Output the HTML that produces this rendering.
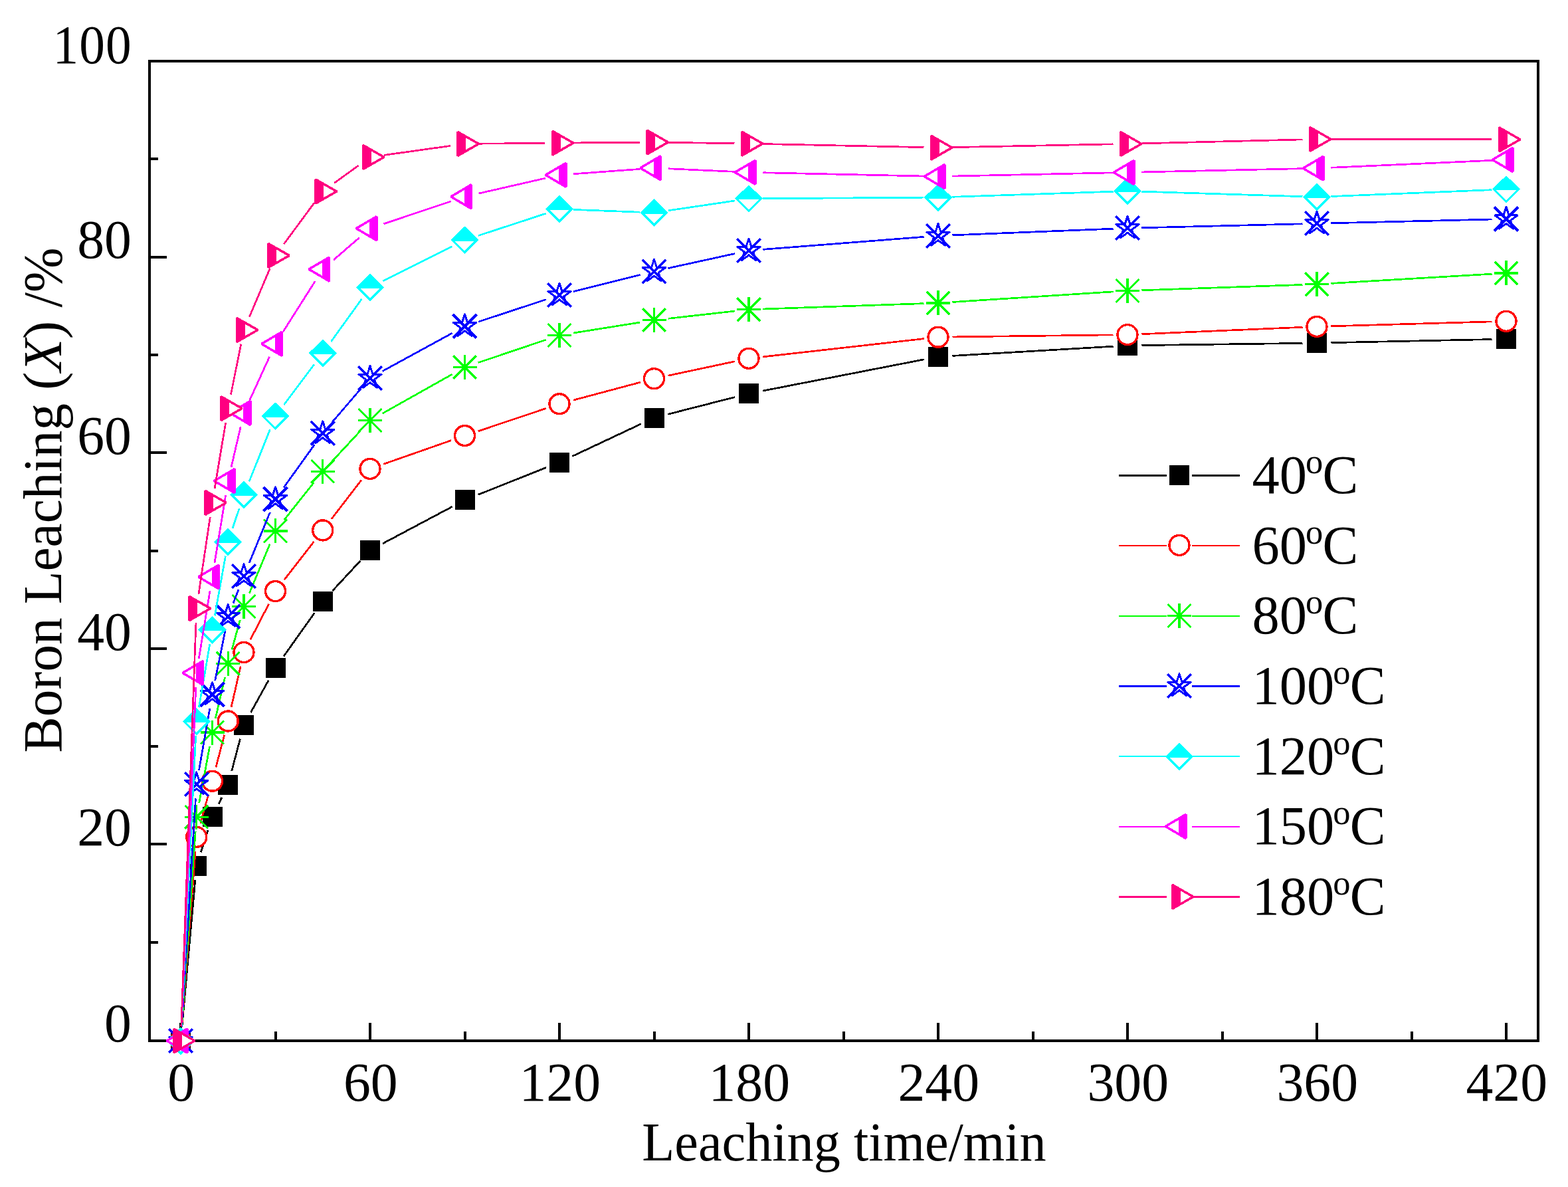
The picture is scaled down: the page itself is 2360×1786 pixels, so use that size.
<!DOCTYPE html>
<html lang="en"><head><meta charset="utf-8"><title>Boron leaching vs leaching time</title>
<style>html,body{margin:0;padding:0;background:#fff}body{width:2360px;height:1786px;overflow:hidden}svg{display:block}text{font-family:"Liberation Serif","DejaVu Serif",serif;fill:#000}</style></head><body>
<svg role="img" aria-label="Boron leaching versus leaching time at 40 to 180 degrees C" width="2360" height="1786" viewBox="0 0 2360 1786" shape-rendering="crispEdges">
<rect width="2360" height="1786" fill="#fff"/>
<rect x="225" y="92" width="2090" height="1474" fill="none" stroke="#000" stroke-width="4"/>
<path d="M272 1539V1565M415 1552V1565M557 1539V1565M700 1552V1565M842 1539V1565M985 1552V1565M1127 1539V1565M1270 1552V1565M1412 1539V1565M1555 1552V1565M1697 1539V1565M1840 1552V1565M1982 1539V1565M2125 1552V1565M2267 1539V1565M226 1566H251M226 1418H238M226 1270H251M226 1123H238M226 976H251M226 829H238M226 681H251M226 534H238M226 387H251M226 239H238M226 92H251" stroke="#000" stroke-width="4" fill="none"/>
<g id="s-40">
<path d="M273.93 1544.59L293.82 1324.11M302.33 1282.23L312.92 1249.27M329.03 1209.53L333.72 1200.07M348.74 1160.01L361.51 1111.59M377.41 1071.99L404.09 1023.81M426.96 987.48L473.29 922.32M500.37 889.04L542.38 843.76M575.99 817.91L680.51 762.39M719.48 744.35L822.02 703.55M861.46 686.45L965.04 637.75M1005.33 623.28L1106.17 597.52M1148.1 588.09L1390.9 540.81M1433.46 535.43L1675.54 521.17M1718.5 519.61L1960.5 516.39M2003.5 515.65L2245.5 510.55" stroke="#000" stroke-width="2.7" fill="none"/>
<rect x="257" y="1551" width="30" height="30" fill="#000"/>
<rect x="280.75" y="1287.7" width="30" height="30" fill="#000"/>
<rect x="304.5" y="1213.8" width="30" height="30" fill="#000"/>
<rect x="328.25" y="1165.8" width="30" height="30" fill="#000"/>
<rect x="352" y="1075.8" width="30" height="30" fill="#000"/>
<rect x="399.5" y="990" width="30" height="30" fill="#000"/>
<rect x="470.75" y="889.8" width="30" height="30" fill="#000"/>
<rect x="542" y="813" width="30" height="30" fill="#000"/>
<rect x="684.5" y="737.3" width="30" height="30" fill="#000"/>
<rect x="827" y="680.6" width="30" height="30" fill="#000"/>
<rect x="969.5" y="613.6" width="30" height="30" fill="#000"/>
<rect x="1112" y="577.2" width="30" height="30" fill="#000"/>
<rect x="1397" y="521.7" width="30" height="30" fill="#000"/>
<rect x="1682" y="504.9" width="30" height="30" fill="#000"/>
<rect x="1967" y="501.1" width="30" height="30" fill="#000"/>
<rect x="2252" y="495.1" width="30" height="30" fill="#000"/>
</g>
<g id="s-60">
<path d="M273.66 1544.56L294.09 1280.84M301.59 1238.71L313.66 1195.89M324.97 1154.41L337.78 1105.79M348.06 1064.04L362.19 1002.46M376.87 962.4L404.63 908.7M427.69 872.62L472.56 814.88M498.87 780.87L543.88 722.43M577.29 698.29L679.21 662.61M719.88 648.66L821.62 614.54M862.77 602.16L963.73 575.24M1005.53 565.21L1105.97 543.79M1148.36 536.89L1390.64 509.61M1433.5 506.93L1675.5 503.87M1718.48 502.68L1960.52 492.32M2003.49 490.79L2245.51 483.91" stroke="#f00" stroke-width="2.7" fill="none"/>
<circle cx="272" cy="1566" r="15" fill="#fff" stroke="#f00" stroke-width="3.4"/>
<circle cx="295.75" cy="1259.4" r="15" fill="#fff" stroke="#f00" stroke-width="3.4"/>
<circle cx="319.5" cy="1175.2" r="15" fill="#fff" stroke="#f00" stroke-width="3.4"/>
<circle cx="343.25" cy="1085" r="15" fill="#fff" stroke="#f00" stroke-width="3.4"/>
<circle cx="367" cy="981.5" r="15" fill="#fff" stroke="#f00" stroke-width="3.4"/>
<circle cx="414.5" cy="889.6" r="15" fill="#fff" stroke="#f00" stroke-width="3.4"/>
<circle cx="485.75" cy="797.9" r="15" fill="#fff" stroke="#f00" stroke-width="3.4"/>
<circle cx="557" cy="705.4" r="15" fill="#fff" stroke="#f00" stroke-width="3.4"/>
<circle cx="699.5" cy="655.5" r="15" fill="#fff" stroke="#f00" stroke-width="3.4"/>
<circle cx="842" cy="607.7" r="15" fill="#fff" stroke="#f00" stroke-width="3.4"/>
<circle cx="984.5" cy="569.7" r="15" fill="#fff" stroke="#f00" stroke-width="3.4"/>
<circle cx="1127" cy="539.3" r="15" fill="#fff" stroke="#f00" stroke-width="3.4"/>
<circle cx="1412" cy="507.2" r="15" fill="#fff" stroke="#f00" stroke-width="3.4"/>
<circle cx="1697" cy="503.6" r="15" fill="#fff" stroke="#f00" stroke-width="3.4"/>
<circle cx="1982" cy="491.4" r="15" fill="#fff" stroke="#f00" stroke-width="3.4"/>
<circle cx="2267" cy="483.3" r="15" fill="#fff" stroke="#f00" stroke-width="3.4"/>
</g>
<g id="s-80">
<path d="M273.51 1544.55L294.24 1250.85M299.69 1208.26L315.56 1123.24M324.29 1081.14L338.46 1019.16M348.99 977.48L361.26 933.12M375.3 892.57L406.2 818.73M427.87 782.06L472.38 726.04M500.39 693.46L542.36 648.34M575.74 622.07L680.76 563.03M719.87 545.62L821.63 511.28M863.23 501.02L963.27 485.08M1005.87 479.3L1105.63 468.1M1148.49 464.96L1390.51 456.64M1433.46 454.51L1675.54 438.89M1718.49 436.76L1960.51 428.44M2003.46 426.43L2245.54 412.17" stroke="#0f0" stroke-width="2.7" fill="none"/>
<path transform="translate(272 1566)" d="M-18 0H18M0-18.5V18.5M-17.4-17.4L17.4 17.4M-17.4 17.4L17.4-17.4" stroke="#0f0" stroke-width="3.3" fill="none"/>
<path transform="translate(295.75 1229.4)" d="M-18 0H18M0-18.5V18.5M-17.4-17.4L17.4 17.4M-17.4 17.4L17.4-17.4" stroke="#0f0" stroke-width="3.3" fill="none"/>
<path transform="translate(319.5 1102.1)" d="M-18 0H18M0-18.5V18.5M-17.4-17.4L17.4 17.4M-17.4 17.4L17.4-17.4" stroke="#0f0" stroke-width="3.3" fill="none"/>
<path transform="translate(343.25 998.2)" d="M-18 0H18M0-18.5V18.5M-17.4-17.4L17.4 17.4M-17.4 17.4L17.4-17.4" stroke="#0f0" stroke-width="3.3" fill="none"/>
<path transform="translate(367 912.4)" d="M-18 0H18M0-18.5V18.5M-17.4-17.4L17.4 17.4M-17.4 17.4L17.4-17.4" stroke="#0f0" stroke-width="3.3" fill="none"/>
<path transform="translate(414.5 798.9)" d="M-18 0H18M0-18.5V18.5M-17.4-17.4L17.4 17.4M-17.4 17.4L17.4-17.4" stroke="#0f0" stroke-width="3.3" fill="none"/>
<path transform="translate(485.75 709.2)" d="M-18 0H18M0-18.5V18.5M-17.4-17.4L17.4 17.4M-17.4 17.4L17.4-17.4" stroke="#0f0" stroke-width="3.3" fill="none"/>
<path transform="translate(557 632.6)" d="M-18 0H18M0-18.5V18.5M-17.4-17.4L17.4 17.4M-17.4 17.4L17.4-17.4" stroke="#0f0" stroke-width="3.3" fill="none"/>
<path transform="translate(699.5 552.5)" d="M-18 0H18M0-18.5V18.5M-17.4-17.4L17.4 17.4M-17.4 17.4L17.4-17.4" stroke="#0f0" stroke-width="3.3" fill="none"/>
<path transform="translate(842 504.4)" d="M-18 0H18M0-18.5V18.5M-17.4-17.4L17.4 17.4M-17.4 17.4L17.4-17.4" stroke="#0f0" stroke-width="3.3" fill="none"/>
<path transform="translate(984.5 481.7)" d="M-18 0H18M0-18.5V18.5M-17.4-17.4L17.4 17.4M-17.4 17.4L17.4-17.4" stroke="#0f0" stroke-width="3.3" fill="none"/>
<path transform="translate(1127 465.7)" d="M-18 0H18M0-18.5V18.5M-17.4-17.4L17.4 17.4M-17.4 17.4L17.4-17.4" stroke="#0f0" stroke-width="3.3" fill="none"/>
<path transform="translate(1412 455.9)" d="M-18 0H18M0-18.5V18.5M-17.4-17.4L17.4 17.4M-17.4 17.4L17.4-17.4" stroke="#0f0" stroke-width="3.3" fill="none"/>
<path transform="translate(1697 437.5)" d="M-18 0H18M0-18.5V18.5M-17.4-17.4L17.4 17.4M-17.4 17.4L17.4-17.4" stroke="#0f0" stroke-width="3.3" fill="none"/>
<path transform="translate(1982 427.7)" d="M-18 0H18M0-18.5V18.5M-17.4-17.4L17.4 17.4M-17.4 17.4L17.4-17.4" stroke="#0f0" stroke-width="3.3" fill="none"/>
<path transform="translate(2267 410.9)" d="M-18 0H18M0-18.5V18.5M-17.4-17.4L17.4 17.4M-17.4 17.4L17.4-17.4" stroke="#0f0" stroke-width="3.3" fill="none"/>
</g>
<g id="s-100">
<path d="M273.32 1544.54L294.43 1201.46M299.48 1158.83L315.77 1066.17M323.76 1023.93L338.99 948.67M351.07 907.57L359.18 886.83M375.16 846.91L406.34 770.89M427.04 733.54L473.21 669.26M499.74 635.48L543.01 585.02M575.87 558.4L680.63 501.2M719.92 484.18L821.58 450.72M862.85 438.76L963.65 413.44M1005.5 403.6L1106 381.6M1148.43 375.32L1390.57 356.38M1433.48 353.84L1675.52 344.16M1718.49 342.77L1960.51 336.83M2003.49 335.79L2245.51 330.01" stroke="#00f" stroke-width="2.7" fill="none"/>
<g transform="translate(272 1566)" stroke="#00f" fill="none"><polygon points="0,-18 4.04,-5.56 17.12,-5.56 6.54,2.12 10.58,14.56 0,6.88 -10.58,14.56 -6.54,2.12 -17.12,-5.56 -4.04,-5.56" stroke-width="3" stroke-linejoin="round"/><path d="M-17.8-17.8L17.8 17.8M-17.8 17.8L17.8-17.8" stroke-width="3.8"/></g>
<g transform="translate(295.75 1180)" stroke="#00f" fill="none"><polygon points="0,-18 4.04,-5.56 17.12,-5.56 6.54,2.12 10.58,14.56 0,6.88 -10.58,14.56 -6.54,2.12 -17.12,-5.56 -4.04,-5.56" stroke-width="3" stroke-linejoin="round"/><path d="M-17.8-17.8L17.8 17.8M-17.8 17.8L17.8-17.8" stroke-width="3.8"/></g>
<g transform="translate(319.5 1045)" stroke="#00f" fill="none"><polygon points="0,-18 4.04,-5.56 17.12,-5.56 6.54,2.12 10.58,14.56 0,6.88 -10.58,14.56 -6.54,2.12 -17.12,-5.56 -4.04,-5.56" stroke-width="3" stroke-linejoin="round"/><path d="M-17.8-17.8L17.8 17.8M-17.8 17.8L17.8-17.8" stroke-width="3.8"/></g>
<g transform="translate(343.25 927.6)" stroke="#00f" fill="none"><polygon points="0,-18 4.04,-5.56 17.12,-5.56 6.54,2.12 10.58,14.56 0,6.88 -10.58,14.56 -6.54,2.12 -17.12,-5.56 -4.04,-5.56" stroke-width="3" stroke-linejoin="round"/><path d="M-17.8-17.8L17.8 17.8M-17.8 17.8L17.8-17.8" stroke-width="3.8"/></g>
<g transform="translate(367 866.8)" stroke="#00f" fill="none"><polygon points="0,-18 4.04,-5.56 17.12,-5.56 6.54,2.12 10.58,14.56 0,6.88 -10.58,14.56 -6.54,2.12 -17.12,-5.56 -4.04,-5.56" stroke-width="3" stroke-linejoin="round"/><path d="M-17.8-17.8L17.8 17.8M-17.8 17.8L17.8-17.8" stroke-width="3.8"/></g>
<g transform="translate(414.5 751)" stroke="#00f" fill="none"><polygon points="0,-18 4.04,-5.56 17.12,-5.56 6.54,2.12 10.58,14.56 0,6.88 -10.58,14.56 -6.54,2.12 -17.12,-5.56 -4.04,-5.56" stroke-width="3" stroke-linejoin="round"/><path d="M-17.8-17.8L17.8 17.8M-17.8 17.8L17.8-17.8" stroke-width="3.8"/></g>
<g transform="translate(485.75 651.8)" stroke="#00f" fill="none"><polygon points="0,-18 4.04,-5.56 17.12,-5.56 6.54,2.12 10.58,14.56 0,6.88 -10.58,14.56 -6.54,2.12 -17.12,-5.56 -4.04,-5.56" stroke-width="3" stroke-linejoin="round"/><path d="M-17.8-17.8L17.8 17.8M-17.8 17.8L17.8-17.8" stroke-width="3.8"/></g>
<g transform="translate(557 568.7)" stroke="#00f" fill="none"><polygon points="0,-18 4.04,-5.56 17.12,-5.56 6.54,2.12 10.58,14.56 0,6.88 -10.58,14.56 -6.54,2.12 -17.12,-5.56 -4.04,-5.56" stroke-width="3" stroke-linejoin="round"/><path d="M-17.8-17.8L17.8 17.8M-17.8 17.8L17.8-17.8" stroke-width="3.8"/></g>
<g transform="translate(699.5 490.9)" stroke="#00f" fill="none"><polygon points="0,-18 4.04,-5.56 17.12,-5.56 6.54,2.12 10.58,14.56 0,6.88 -10.58,14.56 -6.54,2.12 -17.12,-5.56 -4.04,-5.56" stroke-width="3" stroke-linejoin="round"/><path d="M-17.8-17.8L17.8 17.8M-17.8 17.8L17.8-17.8" stroke-width="3.8"/></g>
<g transform="translate(842 444)" stroke="#00f" fill="none"><polygon points="0,-18 4.04,-5.56 17.12,-5.56 6.54,2.12 10.58,14.56 0,6.88 -10.58,14.56 -6.54,2.12 -17.12,-5.56 -4.04,-5.56" stroke-width="3" stroke-linejoin="round"/><path d="M-17.8-17.8L17.8 17.8M-17.8 17.8L17.8-17.8" stroke-width="3.8"/></g>
<g transform="translate(984.5 408.2)" stroke="#00f" fill="none"><polygon points="0,-18 4.04,-5.56 17.12,-5.56 6.54,2.12 10.58,14.56 0,6.88 -10.58,14.56 -6.54,2.12 -17.12,-5.56 -4.04,-5.56" stroke-width="3" stroke-linejoin="round"/><path d="M-17.8-17.8L17.8 17.8M-17.8 17.8L17.8-17.8" stroke-width="3.8"/></g>
<g transform="translate(1127 377)" stroke="#00f" fill="none"><polygon points="0,-18 4.04,-5.56 17.12,-5.56 6.54,2.12 10.58,14.56 0,6.88 -10.58,14.56 -6.54,2.12 -17.12,-5.56 -4.04,-5.56" stroke-width="3" stroke-linejoin="round"/><path d="M-17.8-17.8L17.8 17.8M-17.8 17.8L17.8-17.8" stroke-width="3.8"/></g>
<g transform="translate(1412 354.7)" stroke="#00f" fill="none"><polygon points="0,-18 4.04,-5.56 17.12,-5.56 6.54,2.12 10.58,14.56 0,6.88 -10.58,14.56 -6.54,2.12 -17.12,-5.56 -4.04,-5.56" stroke-width="3" stroke-linejoin="round"/><path d="M-17.8-17.8L17.8 17.8M-17.8 17.8L17.8-17.8" stroke-width="3.8"/></g>
<g transform="translate(1697 343.3)" stroke="#00f" fill="none"><polygon points="0,-18 4.04,-5.56 17.12,-5.56 6.54,2.12 10.58,14.56 0,6.88 -10.58,14.56 -6.54,2.12 -17.12,-5.56 -4.04,-5.56" stroke-width="3" stroke-linejoin="round"/><path d="M-17.8-17.8L17.8 17.8M-17.8 17.8L17.8-17.8" stroke-width="3.8"/></g>
<g transform="translate(1982 336.3)" stroke="#00f" fill="none"><polygon points="0,-18 4.04,-5.56 17.12,-5.56 6.54,2.12 10.58,14.56 0,6.88 -10.58,14.56 -6.54,2.12 -17.12,-5.56 -4.04,-5.56" stroke-width="3" stroke-linejoin="round"/><path d="M-17.8-17.8L17.8 17.8M-17.8 17.8L17.8-17.8" stroke-width="3.8"/></g>
<g transform="translate(2267 329.5)" stroke="#00f" fill="none"><polygon points="0,-18 4.04,-5.56 17.12,-5.56 6.54,2.12 10.58,14.56 0,6.88 -10.58,14.56 -6.54,2.12 -17.12,-5.56 -4.04,-5.56" stroke-width="3" stroke-linejoin="round"/><path d="M-17.8-17.8L17.8 17.8M-17.8 17.8L17.8-17.8" stroke-width="3.8"/></g>
</g>
<g id="s-120">
<path d="M273.06 1544.53L294.69 1107.07M299.39 1064.41L315.86 968.69M323.3 926.34L339.45 836.56M350.08 795.01L360.17 764.89M375.01 724.55L406.49 646.15M427.41 609.01L472.84 548.49M498.33 513.86L544.42 449.94M576.23 422.88L680.27 370.82M719.94 354.52L821.56 321.28M863.48 315.41L963.02 319.19M1005.77 316.85L1105.73 302.05M1148.5 298.76L1390.5 297.14M1433.49 296.28L1675.51 288.22M1718.49 288.17L1960.51 295.73M2003.48 295.53L2245.52 285.67" stroke="#0ff" stroke-width="2.7" fill="none"/>
<g transform="translate(272 1566)" stroke="#0ff" stroke-width="3.4"><polygon points="0,-18.3 18.7,0 0,18.7 -18.7,0" fill="#fff"/><polygon points="0,-18.3 18.7,0 17.1,1.6 -17.1,1.6 -18.7,0" fill="#0ff" stroke="none"/></g>
<g transform="translate(295.75 1085.6)" stroke="#0ff" stroke-width="3.4"><polygon points="0,-18.3 18.7,0 0,18.7 -18.7,0" fill="#fff"/><polygon points="0,-18.3 18.7,0 17.1,1.6 -17.1,1.6 -18.7,0" fill="#0ff" stroke="none"/></g>
<g transform="translate(319.5 947.5)" stroke="#0ff" stroke-width="3.4"><polygon points="0,-18.3 18.7,0 0,18.7 -18.7,0" fill="#fff"/><polygon points="0,-18.3 18.7,0 17.1,1.6 -17.1,1.6 -18.7,0" fill="#0ff" stroke="none"/></g>
<g transform="translate(343.25 815.4)" stroke="#0ff" stroke-width="3.4"><polygon points="0,-18.3 18.7,0 0,18.7 -18.7,0" fill="#fff"/><polygon points="0,-18.3 18.7,0 17.1,1.6 -17.1,1.6 -18.7,0" fill="#0ff" stroke="none"/></g>
<g transform="translate(367 744.5)" stroke="#0ff" stroke-width="3.4"><polygon points="0,-18.3 18.7,0 0,18.7 -18.7,0" fill="#fff"/><polygon points="0,-18.3 18.7,0 17.1,1.6 -17.1,1.6 -18.7,0" fill="#0ff" stroke="none"/></g>
<g transform="translate(414.5 626.2)" stroke="#0ff" stroke-width="3.4"><polygon points="0,-18.3 18.7,0 0,18.7 -18.7,0" fill="#fff"/><polygon points="0,-18.3 18.7,0 17.1,1.6 -17.1,1.6 -18.7,0" fill="#0ff" stroke="none"/></g>
<g transform="translate(485.75 531.3)" stroke="#0ff" stroke-width="3.4"><polygon points="0,-18.3 18.7,0 0,18.7 -18.7,0" fill="#fff"/><polygon points="0,-18.3 18.7,0 17.1,1.6 -17.1,1.6 -18.7,0" fill="#0ff" stroke="none"/></g>
<g transform="translate(557 432.5)" stroke="#0ff" stroke-width="3.4"><polygon points="0,-18.3 18.7,0 0,18.7 -18.7,0" fill="#fff"/><polygon points="0,-18.3 18.7,0 17.1,1.6 -17.1,1.6 -18.7,0" fill="#0ff" stroke="none"/></g>
<g transform="translate(699.5 361.2)" stroke="#0ff" stroke-width="3.4"><polygon points="0,-18.3 18.7,0 0,18.7 -18.7,0" fill="#fff"/><polygon points="0,-18.3 18.7,0 17.1,1.6 -17.1,1.6 -18.7,0" fill="#0ff" stroke="none"/></g>
<g transform="translate(842 314.6)" stroke="#0ff" stroke-width="3.4"><polygon points="0,-18.3 18.7,0 0,18.7 -18.7,0" fill="#fff"/><polygon points="0,-18.3 18.7,0 17.1,1.6 -17.1,1.6 -18.7,0" fill="#0ff" stroke="none"/></g>
<g transform="translate(984.5 320)" stroke="#0ff" stroke-width="3.4"><polygon points="0,-18.3 18.7,0 0,18.7 -18.7,0" fill="#fff"/><polygon points="0,-18.3 18.7,0 17.1,1.6 -17.1,1.6 -18.7,0" fill="#0ff" stroke="none"/></g>
<g transform="translate(1127 298.9)" stroke="#0ff" stroke-width="3.4"><polygon points="0,-18.3 18.7,0 0,18.7 -18.7,0" fill="#fff"/><polygon points="0,-18.3 18.7,0 17.1,1.6 -17.1,1.6 -18.7,0" fill="#0ff" stroke="none"/></g>
<g transform="translate(1412 297)" stroke="#0ff" stroke-width="3.4"><polygon points="0,-18.3 18.7,0 0,18.7 -18.7,0" fill="#fff"/><polygon points="0,-18.3 18.7,0 17.1,1.6 -17.1,1.6 -18.7,0" fill="#0ff" stroke="none"/></g>
<g transform="translate(1697 287.5)" stroke="#0ff" stroke-width="3.4"><polygon points="0,-18.3 18.7,0 0,18.7 -18.7,0" fill="#fff"/><polygon points="0,-18.3 18.7,0 17.1,1.6 -17.1,1.6 -18.7,0" fill="#0ff" stroke="none"/></g>
<g transform="translate(1982 296.4)" stroke="#0ff" stroke-width="3.4"><polygon points="0,-18.3 18.7,0 0,18.7 -18.7,0" fill="#fff"/><polygon points="0,-18.3 18.7,0 17.1,1.6 -17.1,1.6 -18.7,0" fill="#0ff" stroke="none"/></g>
<g transform="translate(2267 284.8)" stroke="#0ff" stroke-width="3.4"><polygon points="0,-18.3 18.7,0 0,18.7 -18.7,0" fill="#fff"/><polygon points="0,-18.3 18.7,0 17.1,1.6 -17.1,1.6 -18.7,0" fill="#0ff" stroke="none"/></g>
</g>
<g id="s-150">
<path d="M272.92 1544.52L294.83 1033.98M299.24 991.28L316.01 889.22M322.99 846.79L339.76 744.81M348.12 702.66L362.13 642.34M375.93 601.84L405.57 536.96M426.02 499.25L474.23 423.25M502.04 391.06L540.71 357.74M577.38 336.86L679.12 302.74M720.46 291.11L821.04 268.09M863.44 261.72L963.06 254.38M1005.98 253.78L1105.52 258.32M1148.49 259.77L1390.51 265.03M1433.5 265.04L1675.5 259.86M1718.49 258.93L1960.51 253.67M2003.48 252.24L2245.52 241.36" stroke="#f0f" stroke-width="2.7" fill="none"/>
<g transform="translate(272 1566)" stroke="#f0f" stroke-width="3.5" stroke-linejoin="bevel"><polygon points="-20.9,0 9.75,-18 9.75,18" fill="#fff"/><polygon points="-1,-11.7 9.75,-18 9.75,18 -1,11.7" fill="#f0f" stroke="none"/></g>
<g transform="translate(295.75 1012.5)" stroke="#f0f" stroke-width="3.5" stroke-linejoin="bevel"><polygon points="-20.9,0 9.75,-18 9.75,18" fill="#fff"/><polygon points="-1,-11.7 9.75,-18 9.75,18 -1,11.7" fill="#f0f" stroke="none"/></g>
<g transform="translate(319.5 868)" stroke="#f0f" stroke-width="3.5" stroke-linejoin="bevel"><polygon points="-20.9,0 9.75,-18 9.75,18" fill="#fff"/><polygon points="-1,-11.7 9.75,-18 9.75,18 -1,11.7" fill="#f0f" stroke="none"/></g>
<g transform="translate(343.25 723.6)" stroke="#f0f" stroke-width="3.5" stroke-linejoin="bevel"><polygon points="-20.9,0 9.75,-18 9.75,18" fill="#fff"/><polygon points="-1,-11.7 9.75,-18 9.75,18 -1,11.7" fill="#f0f" stroke="none"/></g>
<g transform="translate(367 621.4)" stroke="#f0f" stroke-width="3.5" stroke-linejoin="bevel"><polygon points="-20.9,0 9.75,-18 9.75,18" fill="#fff"/><polygon points="-1,-11.7 9.75,-18 9.75,18 -1,11.7" fill="#f0f" stroke="none"/></g>
<g transform="translate(414.5 517.4)" stroke="#f0f" stroke-width="3.5" stroke-linejoin="bevel"><polygon points="-20.9,0 9.75,-18 9.75,18" fill="#fff"/><polygon points="-1,-11.7 9.75,-18 9.75,18 -1,11.7" fill="#f0f" stroke="none"/></g>
<g transform="translate(485.75 405.1)" stroke="#f0f" stroke-width="3.5" stroke-linejoin="bevel"><polygon points="-20.9,0 9.75,-18 9.75,18" fill="#fff"/><polygon points="-1,-11.7 9.75,-18 9.75,18 -1,11.7" fill="#f0f" stroke="none"/></g>
<g transform="translate(557 343.7)" stroke="#f0f" stroke-width="3.5" stroke-linejoin="bevel"><polygon points="-20.9,0 9.75,-18 9.75,18" fill="#fff"/><polygon points="-1,-11.7 9.75,-18 9.75,18 -1,11.7" fill="#f0f" stroke="none"/></g>
<g transform="translate(699.5 295.9)" stroke="#f0f" stroke-width="3.5" stroke-linejoin="bevel"><polygon points="-20.9,0 9.75,-18 9.75,18" fill="#fff"/><polygon points="-1,-11.7 9.75,-18 9.75,18 -1,11.7" fill="#f0f" stroke="none"/></g>
<g transform="translate(842 263.3)" stroke="#f0f" stroke-width="3.5" stroke-linejoin="bevel"><polygon points="-20.9,0 9.75,-18 9.75,18" fill="#fff"/><polygon points="-1,-11.7 9.75,-18 9.75,18 -1,11.7" fill="#f0f" stroke="none"/></g>
<g transform="translate(984.5 252.8)" stroke="#f0f" stroke-width="3.5" stroke-linejoin="bevel"><polygon points="-20.9,0 9.75,-18 9.75,18" fill="#fff"/><polygon points="-1,-11.7 9.75,-18 9.75,18 -1,11.7" fill="#f0f" stroke="none"/></g>
<g transform="translate(1127 259.3)" stroke="#f0f" stroke-width="3.5" stroke-linejoin="bevel"><polygon points="-20.9,0 9.75,-18 9.75,18" fill="#fff"/><polygon points="-1,-11.7 9.75,-18 9.75,18 -1,11.7" fill="#f0f" stroke="none"/></g>
<g transform="translate(1412 265.5)" stroke="#f0f" stroke-width="3.5" stroke-linejoin="bevel"><polygon points="-20.9,0 9.75,-18 9.75,18" fill="#fff"/><polygon points="-1,-11.7 9.75,-18 9.75,18 -1,11.7" fill="#f0f" stroke="none"/></g>
<g transform="translate(1697 259.4)" stroke="#f0f" stroke-width="3.5" stroke-linejoin="bevel"><polygon points="-20.9,0 9.75,-18 9.75,18" fill="#fff"/><polygon points="-1,-11.7 9.75,-18 9.75,18 -1,11.7" fill="#f0f" stroke="none"/></g>
<g transform="translate(1982 253.2)" stroke="#f0f" stroke-width="3.5" stroke-linejoin="bevel"><polygon points="-20.9,0 9.75,-18 9.75,18" fill="#fff"/><polygon points="-1,-11.7 9.75,-18 9.75,18 -1,11.7" fill="#f0f" stroke="none"/></g>
<g transform="translate(2267 240.4)" stroke="#f0f" stroke-width="3.5" stroke-linejoin="bevel"><polygon points="-20.9,0 9.75,-18 9.75,18" fill="#fff"/><polygon points="-1,-11.7 9.75,-18 9.75,18 -1,11.7" fill="#f0f" stroke="none"/></g>
</g>
<g id="s-180">
<path d="M272.78 1544.51L294.97 936.99M298.92 894.24L316.33 777.66M323.05 735.2L339.7 635.8M347.49 593.52L362.76 517.58M375.39 476.71L406.11 404.29M427.27 367.2L472.98 305.3M503.16 275.39L539.59 249.01M578.29 233.41L678.21 219.39M721 216.2L820.5 215.3M863.5 214.93L963 214.17M1006 214.32L1105.5 215.78M1148.5 216.55L1390.5 221.65M1433.5 221.67L1675.5 216.83M1718.49 215.87L1960.51 209.93M2003.5 209.44L2245.5 209.86" stroke="#ff0080" stroke-width="2.7" fill="none"/>
<g transform="translate(272 1566)" stroke="#ff0080" stroke-width="3.5" stroke-linejoin="bevel"><polygon points="21,0 -10.55,-18 -10.55,18" fill="#fff"/><polygon points="1.6,-11 -10.55,-18 -10.55,18 1.6,11" fill="#ff0080" stroke="none"/></g>
<g transform="translate(295.75 915.5)" stroke="#ff0080" stroke-width="3.5" stroke-linejoin="bevel"><polygon points="21,0 -10.55,-18 -10.55,18" fill="#fff"/><polygon points="1.6,-11 -10.55,-18 -10.55,18 1.6,11" fill="#ff0080" stroke="none"/></g>
<g transform="translate(319.5 756.4)" stroke="#ff0080" stroke-width="3.5" stroke-linejoin="bevel"><polygon points="21,0 -10.55,-18 -10.55,18" fill="#fff"/><polygon points="1.6,-11 -10.55,-18 -10.55,18 1.6,11" fill="#ff0080" stroke="none"/></g>
<g transform="translate(343.25 614.6)" stroke="#ff0080" stroke-width="3.5" stroke-linejoin="bevel"><polygon points="21,0 -10.55,-18 -10.55,18" fill="#fff"/><polygon points="1.6,-11 -10.55,-18 -10.55,18 1.6,11" fill="#ff0080" stroke="none"/></g>
<g transform="translate(367 496.5)" stroke="#ff0080" stroke-width="3.5" stroke-linejoin="bevel"><polygon points="21,0 -10.55,-18 -10.55,18" fill="#fff"/><polygon points="1.6,-11 -10.55,-18 -10.55,18 1.6,11" fill="#ff0080" stroke="none"/></g>
<g transform="translate(414.5 384.5)" stroke="#ff0080" stroke-width="3.5" stroke-linejoin="bevel"><polygon points="21,0 -10.55,-18 -10.55,18" fill="#fff"/><polygon points="1.6,-11 -10.55,-18 -10.55,18 1.6,11" fill="#ff0080" stroke="none"/></g>
<g transform="translate(485.75 288)" stroke="#ff0080" stroke-width="3.5" stroke-linejoin="bevel"><polygon points="21,0 -10.55,-18 -10.55,18" fill="#fff"/><polygon points="1.6,-11 -10.55,-18 -10.55,18 1.6,11" fill="#ff0080" stroke="none"/></g>
<g transform="translate(557 236.4)" stroke="#ff0080" stroke-width="3.5" stroke-linejoin="bevel"><polygon points="21,0 -10.55,-18 -10.55,18" fill="#fff"/><polygon points="1.6,-11 -10.55,-18 -10.55,18 1.6,11" fill="#ff0080" stroke="none"/></g>
<g transform="translate(699.5 216.4)" stroke="#ff0080" stroke-width="3.5" stroke-linejoin="bevel"><polygon points="21,0 -10.55,-18 -10.55,18" fill="#fff"/><polygon points="1.6,-11 -10.55,-18 -10.55,18 1.6,11" fill="#ff0080" stroke="none"/></g>
<g transform="translate(842 215.1)" stroke="#ff0080" stroke-width="3.5" stroke-linejoin="bevel"><polygon points="21,0 -10.55,-18 -10.55,18" fill="#fff"/><polygon points="1.6,-11 -10.55,-18 -10.55,18 1.6,11" fill="#ff0080" stroke="none"/></g>
<g transform="translate(984.5 214)" stroke="#ff0080" stroke-width="3.5" stroke-linejoin="bevel"><polygon points="21,0 -10.55,-18 -10.55,18" fill="#fff"/><polygon points="1.6,-11 -10.55,-18 -10.55,18 1.6,11" fill="#ff0080" stroke="none"/></g>
<g transform="translate(1127 216.1)" stroke="#ff0080" stroke-width="3.5" stroke-linejoin="bevel"><polygon points="21,0 -10.55,-18 -10.55,18" fill="#fff"/><polygon points="1.6,-11 -10.55,-18 -10.55,18 1.6,11" fill="#ff0080" stroke="none"/></g>
<g transform="translate(1412 222.1)" stroke="#ff0080" stroke-width="3.5" stroke-linejoin="bevel"><polygon points="21,0 -10.55,-18 -10.55,18" fill="#fff"/><polygon points="1.6,-11 -10.55,-18 -10.55,18 1.6,11" fill="#ff0080" stroke="none"/></g>
<g transform="translate(1697 216.4)" stroke="#ff0080" stroke-width="3.5" stroke-linejoin="bevel"><polygon points="21,0 -10.55,-18 -10.55,18" fill="#fff"/><polygon points="1.6,-11 -10.55,-18 -10.55,18 1.6,11" fill="#ff0080" stroke="none"/></g>
<g transform="translate(1982 209.4)" stroke="#ff0080" stroke-width="3.5" stroke-linejoin="bevel"><polygon points="21,0 -10.55,-18 -10.55,18" fill="#fff"/><polygon points="1.6,-11 -10.55,-18 -10.55,18 1.6,11" fill="#ff0080" stroke="none"/></g>
<g transform="translate(2267 209.9)" stroke="#ff0080" stroke-width="3.5" stroke-linejoin="bevel"><polygon points="21,0 -10.55,-18 -10.55,18" fill="#fff"/><polygon points="1.6,-11 -10.55,-18 -10.55,18 1.6,11" fill="#ff0080" stroke="none"/></g>
</g>
<g font-size="82.5">
<text transform="translate(272.8 1656) scale(0.985 1)" font-size="83" text-anchor="middle">0</text>
<text transform="translate(557.8 1656) scale(0.985 1)" font-size="83" text-anchor="middle">60</text>
<text transform="translate(842.8 1656) scale(0.985 1)" font-size="83" text-anchor="middle">120</text>
<text transform="translate(1127.8 1656) scale(0.985 1)" font-size="83" text-anchor="middle">180</text>
<text transform="translate(1412.8 1656) scale(0.985 1)" font-size="83" text-anchor="middle">240</text>
<text transform="translate(1697.8 1656) scale(0.985 1)" font-size="83" text-anchor="middle">300</text>
<text transform="translate(1982.8 1656) scale(0.985 1)" font-size="83" text-anchor="middle">360</text>
<text transform="translate(2267.8 1656) scale(0.985 1)" font-size="83" text-anchor="middle">420</text>
<text transform="translate(197.9 1566.7) scale(0.985 1)" font-size="83" text-anchor="end">0</text>
<text transform="translate(197.9 1271.7) scale(0.985 1)" font-size="83" text-anchor="end">20</text>
<text transform="translate(197.9 977.7) scale(0.985 1)" font-size="83" text-anchor="end">40</text>
<text transform="translate(197.9 682.9) scale(0.985 1)" font-size="83" text-anchor="end">60</text>
<text transform="translate(197.9 387.5) scale(0.985 1)" font-size="83" text-anchor="end">80</text>
<text x="79.4 119.2 159" y="94.8" font-size="83" textLength="116" lengthAdjust="spacingAndGlyphs">100</text>
<text transform="translate(1270.5 1745.7) scale(0.973 1)" text-anchor="middle">Leaching time/min</text>
<text transform="translate(91.6 752.4) rotate(-90) scale(0.9845 1)" text-anchor="middle">Boron Leaching (<tspan font-style="italic">X</tspan>) /%</text>
</g>
<g id="lg-40">
<path d="M1684 715.5H1756M1794 715.5H1866" stroke="#000" stroke-width="3" fill="none"/>
<rect x="1760" y="700" width="30" height="30" fill="#000"/>
<text y="742" font-size="82.5"><tspan x="1884.5">40</tspan><tspan x="1965" dy="-29.8" font-size="52.5">o</tspan><tspan x="1990.6" dy="29.8" textLength="53.7" lengthAdjust="spacingAndGlyphs">C</tspan></text>
</g>
<g id="lg-60">
<path d="M1684 821H1756M1794 821H1866" stroke="#f00" stroke-width="2" fill="none"/>
<circle cx="1775" cy="820.4" r="15" fill="#fff" stroke="#f00" stroke-width="3.4"/>
<text y="847.5" font-size="82.5"><tspan x="1884.5">60</tspan><tspan x="1965" dy="-29.8" font-size="52.5">o</tspan><tspan x="1990.6" dy="29.8" textLength="53.7" lengthAdjust="spacingAndGlyphs">C</tspan></text>
</g>
<g id="lg-80">
<path d="M1684 927H1756M1794 927H1866" stroke="#0f0" stroke-width="2" fill="none"/>
<path transform="translate(1775 926.5)" d="M-18 0H18M0-18.5V18.5M-17.4-17.4L17.4 17.4M-17.4 17.4L17.4-17.4" stroke="#0f0" stroke-width="3.3" fill="none"/>
<text y="953.2" font-size="82.5"><tspan x="1884.5">80</tspan><tspan x="1965" dy="-29.8" font-size="52.5">o</tspan><tspan x="1990.6" dy="29.8" textLength="53.7" lengthAdjust="spacingAndGlyphs">C</tspan></text>
</g>
<g id="lg-100">
<path d="M1684 1032.5H1756M1794 1032.5H1866" stroke="#00f" stroke-width="3" fill="none"/>
<g transform="translate(1775 1031.9)" stroke="#00f" fill="none"><polygon points="0,-18 4.04,-5.56 17.12,-5.56 6.54,2.12 10.58,14.56 0,6.88 -10.58,14.56 -6.54,2.12 -17.12,-5.56 -4.04,-5.56" stroke-width="3" stroke-linejoin="round"/><path d="M-17.8-17.8L17.8 17.8M-17.8 17.8L17.8-17.8" stroke-width="3.8"/></g>
<text y="1058.9" font-size="82.5"><tspan x="1884.5">100</tspan><tspan x="2006.25" dy="-29.8" font-size="52.5">o</tspan><tspan x="2031.85" dy="29.8" textLength="53.7" lengthAdjust="spacingAndGlyphs">C</tspan></text>
</g>
<g id="lg-120">
<path d="M1684 1138H1756M1794 1138H1866" stroke="#0ff" stroke-width="2" fill="none"/>
<g transform="translate(1775 1138.2)" stroke="#0ff" stroke-width="3.4"><polygon points="0,-18.3 18.7,0 0,18.7 -18.7,0" fill="#fff"/><polygon points="0,-18.3 18.7,0 17.1,1.6 -17.1,1.6 -18.7,0" fill="#0ff" stroke="none"/></g>
<text y="1164.5" font-size="82.5"><tspan x="1884.5">120</tspan><tspan x="2006.25" dy="-29.8" font-size="52.5">o</tspan><tspan x="2031.85" dy="29.8" textLength="53.7" lengthAdjust="spacingAndGlyphs">C</tspan></text>
</g>
<g id="lg-150">
<path d="M1684 1244H1756M1794 1244H1866" stroke="#f0f" stroke-width="2" fill="none"/>
<g transform="translate(1775 1243.4)" stroke="#f0f" stroke-width="3.5" stroke-linejoin="bevel"><polygon points="-20.9,0 9.75,-18 9.75,18" fill="#fff"/><polygon points="-1,-11.7 9.75,-18 9.75,18 -1,11.7" fill="#f0f" stroke="none"/></g>
<text y="1270.2" font-size="82.5"><tspan x="1884.5">150</tspan><tspan x="2006.25" dy="-29.8" font-size="52.5">o</tspan><tspan x="2031.85" dy="29.8" textLength="53.7" lengthAdjust="spacingAndGlyphs">C</tspan></text>
</g>
<g id="lg-180">
<path d="M1684 1349.5H1756M1794 1349.5H1866" stroke="#ff0080" stroke-width="3" fill="none"/>
<g transform="translate(1775 1349.3)" stroke="#ff0080" stroke-width="3.5" stroke-linejoin="bevel"><polygon points="21,0 -10.55,-18 -10.55,18" fill="#fff"/><polygon points="1.6,-11 -10.55,-18 -10.55,18 1.6,11" fill="#ff0080" stroke="none"/></g>
<text y="1375.9" font-size="82.5"><tspan x="1884.5">180</tspan><tspan x="2006.25" dy="-29.8" font-size="52.5">o</tspan><tspan x="2031.85" dy="29.8" textLength="53.7" lengthAdjust="spacingAndGlyphs">C</tspan></text>
</g>
</svg></body></html>
